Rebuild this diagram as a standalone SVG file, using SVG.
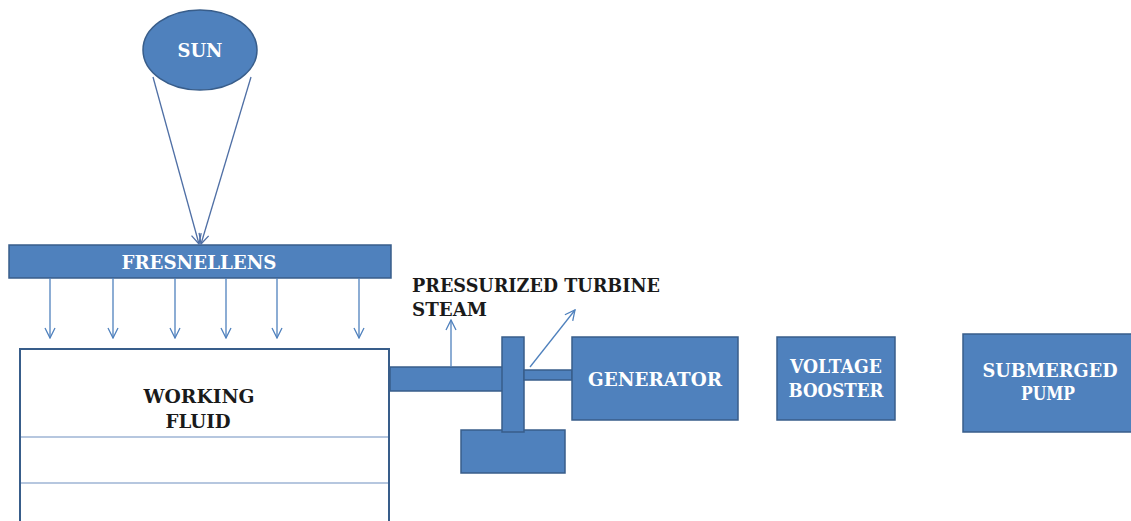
<svg xmlns="http://www.w3.org/2000/svg" width="1131" height="521" viewBox="0 0 1131 521">
<defs>
<marker id="open" viewBox="0 0 12 12" refX="11" refY="6" markerWidth="12" markerHeight="12" markerUnits="userSpaceOnUse" orient="auto">
<path d="M1,1 L11,6 L1,11" fill="none" stroke="#4F81BD" stroke-width="1.3"/>
</marker>
<marker id="open2" viewBox="0 0 12 12" refX="11" refY="6" markerWidth="12" markerHeight="12" markerUnits="userSpaceOnUse" orient="auto">
<path d="M1,1 L11,6 L1,11" fill="none" stroke="#4F6FA5" stroke-width="1.3"/>
</marker>
</defs>
<style>
.b{fill:#4F81BD;stroke:#385D8A;stroke-width:1.5}
.w{fill:#fff;font-family:'DejaVu Serif','Liberation Serif',serif;font-weight:bold;font-size:18px;text-anchor:middle}
.k{fill:#1a1a1a;font-family:'DejaVu Serif','Liberation Serif',serif;font-weight:bold;font-size:18px}
.a{stroke:#4F81BD;stroke-width:1.3;fill:none;marker-end:url(#open)}
.s{stroke:#4F6FA5;stroke-width:1.3;fill:none;marker-end:url(#open2)}
</style>
<rect width="1131" height="521" fill="#fff"/>
<g id="sun">
<ellipse class="b" cx="200" cy="50" rx="57" ry="40"/>
<text class="w" x="200" y="57" textLength="45" lengthAdjust="spacingAndGlyphs">SUN</text>
</g>
<g id="fresnel-lens">
<rect class="b" x="9" y="245" width="382" height="33"/>
<text class="w" x="199" y="269" textLength="155" lengthAdjust="spacingAndGlyphs">FRESNELLENS</text>
</g>
<g id="working-fluid">
<rect x="20" y="349" width="369" height="190" fill="#fff" stroke="#385D8A" stroke-width="2"/>
<line x1="21" y1="437" x2="388" y2="437" stroke="#6F8FBF" stroke-width="1.2"/>
<line x1="21" y1="483" x2="388" y2="483" stroke="#6F8FBF" stroke-width="1.2"/>
<text class="k" x="199" y="403" text-anchor="middle" textLength="111" lengthAdjust="spacingAndGlyphs">WORKING</text>
<text class="k" x="198" y="428" text-anchor="middle" textLength="65" lengthAdjust="spacingAndGlyphs">FLUID</text>
</g>
<g id="turbine">
<rect class="b" x="390" y="367" width="113" height="24"/>
<rect class="b" x="461" y="430" width="104" height="43"/>
<rect class="b" x="502" y="337" width="22" height="95"/>
<rect class="b" x="524" y="370" width="48" height="10"/>
</g>
<g id="steam-label">
<text class="k" x="412" y="292" textLength="248" lengthAdjust="spacingAndGlyphs">PRESSURIZED TURBINE</text>
<text class="k" x="412" y="316" textLength="75" lengthAdjust="spacingAndGlyphs">STEAM</text>
</g>
<g id="generator">
<rect class="b" x="572" y="337" width="166" height="83"/>
<text class="w" x="655" y="386" textLength="134" lengthAdjust="spacingAndGlyphs">GENERATOR</text>
</g>
<g id="voltage-booster">
<rect class="b" x="777" y="337" width="118" height="83"/>
<text class="w" x="836" y="373" textLength="92" lengthAdjust="spacingAndGlyphs">VOLTAGE</text>
<text class="w" x="836" y="397" textLength="95" lengthAdjust="spacingAndGlyphs">BOOSTER</text>
</g>
<g id="submerged-pump">
<rect class="b" x="963" y="334" width="175" height="98"/>
<text class="w" x="1050" y="377" textLength="135" lengthAdjust="spacingAndGlyphs">SUBMERGED</text>
<text class="w" x="1048" y="400" textLength="54" lengthAdjust="spacingAndGlyphs">PUMP</text>
</g>
<g id="connectors">
<line class="s" x1="153" y1="77" x2="199" y2="244"/>
<line class="s" x1="251" y1="77" x2="201" y2="244"/>
<line class="a" x1="50" y1="278" x2="50" y2="338"/>
<line class="a" x1="113" y1="278" x2="113" y2="338"/>
<line class="a" x1="175" y1="278" x2="175" y2="338"/>
<line class="a" x1="226" y1="278" x2="226" y2="338"/>
<line class="a" x1="277" y1="278" x2="277" y2="338"/>
<line class="a" x1="359" y1="278" x2="359" y2="338"/>
<line class="a" x1="451" y1="367" x2="451" y2="320"/>
<line class="a" x1="530" y1="367" x2="575" y2="310"/>
</g>
</svg>
